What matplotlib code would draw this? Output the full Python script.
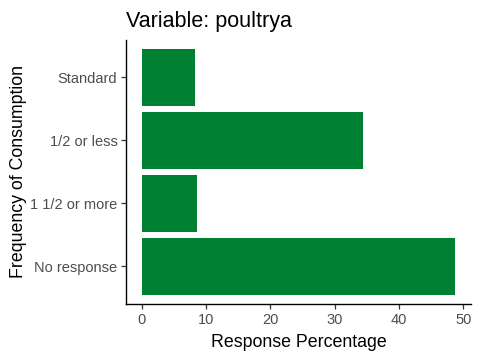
import matplotlib
matplotlib.use("Agg")
import matplotlib.pyplot as plt

categories = ["No response", "1 1/2 or more", "1/2 or less", "Standard"]
values = [48.75, 8.55, 34.4, 8.25]
xticks = [0, 10, 20, 30, 40, 50]

plt.rcParams['font.family'] = ['Liberation Sans', 'DejaVu Sans']

fig = plt.figure(figsize=(4.8, 3.6), dpi=100)
ax = fig.add_axes([126/480, 1 - 304/360, (471 - 126)/480, (304 - 39.5)/360])

pos = list(range(1, len(categories) + 1))
ax.barh(pos, values, height=0.9, color="#008033")
ax.set_yticks(pos)
ax.set_yticklabels(categories)
ax.set_xticks(xticks)
ax.set_ylim(0.4, len(categories) + 0.6)
xmax = max(values)
ax.set_xlim(-0.05 * xmax, xmax * 1.05)

for s in ["top", "right"]:
    ax.spines[s].set_visible(False)
for s in ["left", "bottom"]:
    ax.spines[s].set_linewidth(1.0)
    ax.spines[s].set_color("black")

ax.tick_params(axis="both", colors="#333333", labelcolor="#4D4D4D",
               labelsize=10.5, length=3.7, width=0.9, pad=2.5)

ax.set_xlabel("Response Percentage", fontsize=12.8, color="black", labelpad=5)
ax.set_ylabel("Frequency of Consumption", fontsize=12.8, color="black", labelpad=2)
ax.set_title("Variable: poultrya", fontsize=15.5, loc="left", color="black", pad=9)

fig.savefig("out.png", dpi=100)
